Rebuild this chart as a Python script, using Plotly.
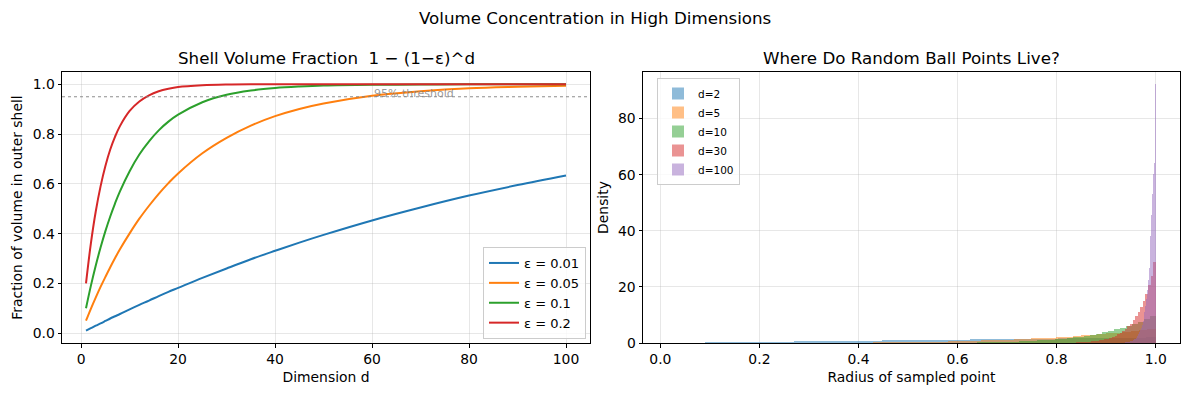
import numpy as np
import plotly.graph_objects as go

# ---------------- data: left panel ----------------
dims = [1, 2, 3, 4, 5, 6, 7, 8, 10, 12, 14, 16, 18, 20, 25, 30, 35, 40, 45, 50, 60, 70, 80, 90, 100]
eps_labels = ["ε = 0.01", "ε = 0.05", "ε = 0.1", "ε = 0.2"]
frac_001 = [0.010, 0.020, 0.030, 0.039, 0.049, 0.059, 0.068, 0.077, 0.096, 0.114, 0.131, 0.149, 0.166, 0.182,
            0.222, 0.260, 0.297, 0.331, 0.364, 0.395, 0.453, 0.505, 0.553, 0.595, 0.634]
frac_005 = [0.050, 0.098, 0.143, 0.186, 0.226, 0.265, 0.302, 0.337, 0.401, 0.460, 0.512, 0.560, 0.603, 0.642,
            0.723, 0.785, 0.834, 0.872, 0.901, 0.923, 0.954, 0.972, 0.984, 0.990, 0.994]
frac_01 = [0.100, 0.190, 0.271, 0.344, 0.410, 0.469, 0.522, 0.570, 0.651, 0.718, 0.771, 0.815, 0.850, 0.878,
           0.928, 0.958, 0.975, 0.985, 0.991, 0.995, 0.998, 0.999, 1.000, 1.000, 1.000]
frac_02 = [0.200, 0.360, 0.488, 0.590, 0.672, 0.738, 0.790, 0.832, 0.893, 0.931, 0.956, 0.972, 0.982, 0.989,
           0.996, 0.999, 1.000, 1.000, 1.000, 1.000, 1.000, 1.000, 1.000, 1.000, 1.000]
threshold = 0.95

# ---------------- data: right panel histograms (50 bins each) ----------------
hist_labels = ["d=2", "d=5", "d=10", "d=30", "d=100"]
hist_lo = [0.012, 0.160, 0.400, 0.740, 0.912]
hist_hi = [1.000, 1.000, 1.000, 1.000, 1.000]
dens_d2 = [0.05, 0.07, 0.13, 0.15, 0.21, 0.23, 0.29, 0.31, 0.37, 0.41, 0.43, 0.49, 0.51, 0.57, 0.59, 0.66, 0.67,
           0.73, 0.75, 0.80, 0.84, 0.86, 0.92, 0.94, 1.01, 1.02, 1.08, 1.10, 1.16, 1.18, 1.24, 1.26, 1.32, 1.34,
           1.40, 1.42, 1.48, 1.50, 1.56, 1.58, 1.63, 1.65, 1.71, 1.73, 1.79, 1.81, 1.87, 1.89, 1.95, 1.97]
dens_d5 = [0.004, 0.006, 0.008, 0.011, 0.015, 0.020, 0.026, 0.033, 0.042, 0.052, 0.064, 0.078, 0.094, 0.112,
           0.133, 0.156, 0.183, 0.212, 0.246, 0.283, 0.324, 0.369, 0.419, 0.474, 0.534, 0.599, 0.671, 0.748,
           0.833, 0.924, 1.022, 1.128, 1.242, 1.365, 1.496, 1.637, 1.787, 1.947, 2.119, 2.301, 2.494, 2.700,
           2.918, 3.148, 3.393, 3.651, 3.924, 4.212, 4.515, 4.834]
dens_d10 = [0.003, 0.004, 0.005, 0.006, 0.008, 0.010, 0.013, 0.016, 0.020, 0.025, 0.031, 0.038, 0.046, 0.056,
            0.068, 0.082, 0.098, 0.117, 0.139, 0.166, 0.196, 0.231, 0.272, 0.319, 0.373, 0.436, 0.507, 0.589,
            0.682, 0.787, 0.908, 1.045, 1.199, 1.372, 1.569, 1.789, 2.039, 2.316, 2.628, 2.976, 3.365, 3.797,
            4.280, 4.815, 5.409, 6.068, 6.797, 7.603, 8.492, 9.473]
dens_d30 = [0.005, 0.007, 0.008, 0.010, 0.012, 0.015, 0.018, 0.022, 0.026, 0.031, 0.038, 0.046, 0.056, 0.067,
            0.081, 0.097, 0.117, 0.140, 0.167, 0.201, 0.240, 0.286, 0.342, 0.407, 0.484, 0.576, 0.685, 0.813,
            0.962, 1.142, 1.351, 1.598, 1.886, 2.226, 2.626, 3.088, 3.634, 4.273, 5.014, 5.895, 6.897, 8.088,
            9.460, 11.06, 12.94, 15.09, 17.59, 20.52, 23.93, 28.90]
dens_d100 = [0.012, 0.015, 0.018, 0.021, 0.026, 0.031, 0.038, 0.045, 0.055, 0.066, 0.080, 0.096, 0.116, 0.140,
             0.168, 0.203, 0.244, 0.294, 0.353, 0.424, 0.510, 0.613, 0.737, 0.885, 1.062, 1.276, 1.530, 1.835,
             2.199, 2.636, 3.156, 3.778, 4.520, 5.405, 6.471, 7.739, 9.248, 11.06, 13.20, 15.79, 18.84, 22.49,
             26.82, 32.01, 38.17, 45.52, 53.20, 60.10, 64.30, 92.30]
hist_dens = [dens_d2, dens_d5, dens_d10, dens_d30, dens_d100]

# ---------------- styling ----------------
tab10 = ["#1f77b4", "#ff7f0e", "#2ca02c", "#d62728", "#9467bd"]
tab10_rgba = ["rgba(31,119,180,0.5)", "rgba(255,127,14,0.5)", "rgba(44,160,44,0.5)",
              "rgba(214,39,40,0.5)", "rgba(148,103,189,0.5)"]
FONT = "DejaVu Sans"
W, H = 1189, 396

def px_x(p):
    return p / W

def px_y(p):
    return 1 - p / H

fig = go.Figure()

# left panel lines
for lab, vals, col in zip(eps_labels, [frac_001, frac_005, frac_01, frac_02], tab10):
    fig.add_trace(go.Scatter(x=dims, y=vals, mode="lines", name=lab,
                             line=dict(color=col, width=2.0, shape="spline", smoothing=1.0),
                             xaxis="x", yaxis="y", legend="legend"))

# right panel histograms
for lab, lo, hi, dens, col in zip(hist_labels, hist_lo, hist_hi, hist_dens, tab10_rgba):
    n = len(dens)
    w = (hi - lo) / n
    centers = lo + w * (np.arange(n) + 0.5)
    fig.add_trace(go.Bar(x=centers, y=dens, width=w, name=lab,
                         marker=dict(color=col, line=dict(width=0)),
                         xaxis="x2", yaxis="y2", legend="legend2"))

ax_common = dict(showline=True, linecolor="black", linewidth=1, mirror=True,
                 ticks="outside", ticklen=3.5, tickwidth=0.8, tickcolor="black",
                 showgrid=True, gridcolor="rgba(176,176,176,0.3)", gridwidth=0.8,
                 zeroline=False, automargin=False,
                 tickfont=dict(family=FONT, size=13.9, color="black"))

ytop, ybot = px_y(72), px_y(343)

fig.update_layout(
    width=W, height=H,
    margin=dict(l=0, r=0, t=0, b=0, autoexpand=False),
    paper_bgcolor="white", plot_bgcolor="white",
    barmode="overlay", bargap=0,
    font=dict(family=FONT, color="black"),
    xaxis=dict(domain=[px_x(62), px_x(590)], range=[-3.95, 104.95],
               tickvals=[0, 20, 40, 60, 80, 100], anchor="y",
               title=dict(text="Dimension d", font=dict(family=FONT, size=13.9), standoff=6),
               **ax_common),
    yaxis=dict(domain=[ybot, ytop], range=[-0.0395, 1.0495],
               tickvals=[0, 0.2, 0.4, 0.6, 0.8, 1.0], tickformat=".1f", anchor="x",
               title=dict(text="Fraction of volume in outer shell", font=dict(family=FONT, size=13.9), standoff=6),
               **ax_common),
    xaxis2=dict(domain=[px_x(643), px_x(1180)], range=[-0.035, 1.049],
                tickvals=[0, 0.2, 0.4, 0.6, 0.8, 1.0], tickformat=".1f", anchor="y2",
                title=dict(text="Radius of sampled point", font=dict(family=FONT, size=13.9), standoff=6),
                **ax_common),
    yaxis2=dict(domain=[ybot, ytop], range=[0, 96.6],
                tickvals=[0, 20, 40, 60, 80], anchor="x2",
                title=dict(text="Density", font=dict(family=FONT, size=13.9), standoff=6),
                **ax_common),
    legend=dict(x=px_x(586), y=px_y(339), xanchor="right", yanchor="bottom",
                bgcolor="rgba(255,255,255,0.8)", bordercolor="#cccccc", borderwidth=1,
                font=dict(family=FONT, size=13), tracegroupgap=0, itemwidth=30),
    legend2=dict(x=px_x(657), y=px_y(78), xanchor="left", yanchor="top",
                 bgcolor="rgba(255,255,255,0.8)", bordercolor="#cccccc", borderwidth=1,
                 font=dict(family=FONT, size=10.5), tracegroupgap=0, itemwidth=30),
    shapes=[dict(type="line", xref="x domain", yref="y", x0=0, x1=1, y0=threshold, y1=threshold,
                 line=dict(color="gray", width=0.9, dash="dot"))],
    annotations=[
        dict(text="Volume Concentration in High Dimensions", x=0.5, y=px_y(18), xref="paper", yref="paper",
             xanchor="center", yanchor="middle", showarrow=False, font=dict(family=FONT, size=16.7)),
        dict(text="Shell Volume Fraction  1 − (1−ε)^d", x=px_x(326), y=px_y(58), xref="paper", yref="paper",
             xanchor="center", yanchor="middle", showarrow=False, font=dict(family=FONT, size=16.7)),
        dict(text="Where Do Random Ball Points Live?", x=px_x(911), y=px_y(58), xref="paper", yref="paper",
             xanchor="center", yanchor="middle", showarrow=False, font=dict(family=FONT, size=16.7)),
        dict(text="95% threshold", x=60, y=threshold, xref="x", yref="y", xanchor="left", yanchor="bottom",
             yshift=-5, showarrow=False, font=dict(family=FONT, size=11, color="rgba(128,128,128,0.8)")),
    ],
)

fig.write_html("out.html", config={"displayModeBar": False},
               post_script="document.body.style.margin='0';document.body.style.padding='0';")
